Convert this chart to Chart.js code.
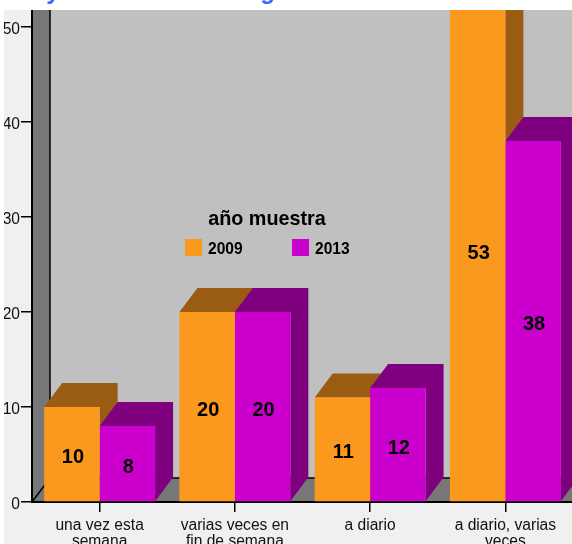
<!DOCTYPE html>
<html>
<head>
<meta charset="utf-8">
<style>
  html, body { margin: 0; padding: 0; background: #fff; overflow: hidden; }
  #wrap { width: 573px; height: 544px; }
</style>
<script src="https://cdn.jsdelivr.net/npm/chart.js@4"></script>
</head>
<body>
<div id="wrap"><canvas id="chart1"></canvas></div>
<script>
const categories = [
  ["una vez esta", "semana"],
  ["varias veces en", "fin de semana"],
  "a diario",
  ["a diario, varias", "veces"],
];
const years = ["2009", "2013"];
const values2009 = [10, 20, 11, 53];
const values2013 = [8, 20, 12, 38];
const yMax = 51.79; // the picture is cut above this

const legendTitle = "año muestra";
const font = "'Liberation Sans', Arial, sans-serif";
const depthX = 18;
const depthY = 24;
const sideColors = ["#995c12", "#7f007f"];

// walls and floor, behind the axes
const walls = {
  id: "walls",
  beforeDraw(chart) {
    const c = chart.ctx;
    const a = chart.chartArea;
    c.save();
    c.fillStyle = "#f0f0f0";
    c.fillRect(0, 0, chart.width, chart.height);

    c.fillStyle = "#c0c0c0";
    c.fillRect(a.left + depthX, a.top, a.right - a.left, a.height - depthY);

    c.fillStyle = "#777777";
    c.beginPath();
    c.moveTo(a.left, a.top);
    c.lineTo(a.left + depthX, a.top);
    c.lineTo(a.left + depthX, a.bottom - depthY);
    c.lineTo(a.right, a.bottom - depthY);
    c.lineTo(a.right, a.bottom);
    c.lineTo(a.left, a.bottom);
    c.closePath();
    c.fill();

    c.strokeStyle = "#000";
    c.lineWidth = 1.5;
    c.beginPath();
    c.moveTo(a.left + depthX, a.top);
    c.lineTo(a.left + depthX, a.bottom - depthY);
    c.lineTo(a.right, a.bottom - depthY);
    c.moveTo(a.left + depthX, a.bottom - depthY);
    c.lineTo(a.left, a.bottom);
    c.stroke();
    c.restore();
  },
  // the white margin cuts the picture at the top and on the left
  afterDraw(chart) {
    const c = chart.ctx;
    const a = chart.chartArea;
    c.save();
    c.fillStyle = "#fff";
    c.fillRect(0, 0, chart.width, a.top);
    c.fillRect(0, 0, 4, chart.height);
    c.fillStyle = "#3366ff";
    c.font = "bold 24px " + font;
    c.textAlign = "center";
    c.textBaseline = "alphabetic";
    c.fillText("y", 53, -1);
    c.fillText("g", 267.5, -1);
    c.restore();
  },
};

// top and side faces of each bar, taken from the bar elements
const depth = {
  id: "depth",
  beforeDatasetsDraw(chart) {
    const c = chart.ctx;
    const a = chart.chartArea;
    c.save();
    c.beginPath();
    c.rect(0, a.top, chart.width, a.height);
    c.clip();
    chart.data.datasets.forEach((ds, i) => {
      c.fillStyle = sideColors[i];
      chart.getDatasetMeta(i).data.forEach((bar) => {
        const l = bar.x - bar.width / 2;
        const r = bar.x + bar.width / 2;
        c.beginPath();
        c.moveTo(l, bar.y);
        c.lineTo(l + depthX, bar.y - depthY);
        c.lineTo(r + depthX, bar.y - depthY);
        c.lineTo(r + depthX, bar.base - depthY);
        c.lineTo(r, bar.base);
        c.lineTo(r, bar.y);
        c.closePath();
        c.fill();
      });
    });
    c.restore();
  },
};

// value labels and the legend inside the plot
const labels = {
  id: "labels",
  afterDatasetsDraw(chart) {
    const c = chart.ctx;
    c.save();
    c.fillStyle = "#000";
    c.textAlign = "center";
    c.textBaseline = "middle";
    c.font = "bold 20px " + font;
    chart.data.datasets.forEach((ds, i) => {
      chart.getDatasetMeta(i).data.forEach((bar, j) => {
        c.fillText(ds.data[j], bar.x + 1, (bar.y + bar.base) / 2 + 3.5);
      });
    });

    c.font = "bold 19.8px " + font;
    c.fillText(legendTitle, 267, 219.5);
    const boxX = [185, 292];
    c.textAlign = "left";
    c.font = "bold 15.6px " + font;
    chart.data.datasets.forEach((ds, i) => {
      c.fillStyle = ds.backgroundColor;
      c.fillRect(boxX[i], 239, 17, 17);
      c.fillStyle = "#000";
      c.fillText(ds.label, boxX[i] + 23, 249.5);
    });
    c.restore();
  },
};

new Chart(document.getElementById("chart1"), {
  type: "bar",
  plugins: [walls, depth, labels],
  data: {
    labels: categories,
    datasets: [
      { label: years[0], data: values2009, backgroundColor: "#fb991f" },
      { label: years[1], data: values2013, backgroundColor: "#cc00cc" },
    ],
  },
  options: {
    responsive: true,
    maintainAspectRatio: false,
    animation: false,
    layout: { padding: { top: 10 } },
    plugins: { legend: { display: false }, tooltip: { enabled: false } },
    datasets: { bar: { categoryPercentage: 0.82, barPercentage: 1, borderWidth: 0 } },
    scales: {
      x: {
        afterFit(s) { s.height = 42; },
        grid: { drawOnChartArea: false, offset: false, color: "#000", lineWidth: 1.5, tickLength: 10 },
        border: { color: "#000", width: 2 },
        ticks: {
          color: "#111",
          padding: 5.5,
          maxRotation: 0,
          autoSkip: false,
          font: { family: font, size: 15.6, lineHeight: 1.03 },
        },
      },
      y: {
        min: 0,
        max: yMax,
        afterFit(s) { s.width = 32; },
        grid: { drawOnChartArea: false, color: "#000", lineWidth: 1.5, tickLength: 11 },
        border: { color: "#000", width: 2 },
        ticks: {
          color: "#111",
          stepSize: 10,
          includeBounds: false,
          padding: 1,
          // empty first line sits the number a little under its tick mark
          callback: (v) => ["", v],
          font: { family: font, size: 15.6, lineHeight: "5px" },
        },
      },
    },
  },
});
</script>
</body>
</html>
